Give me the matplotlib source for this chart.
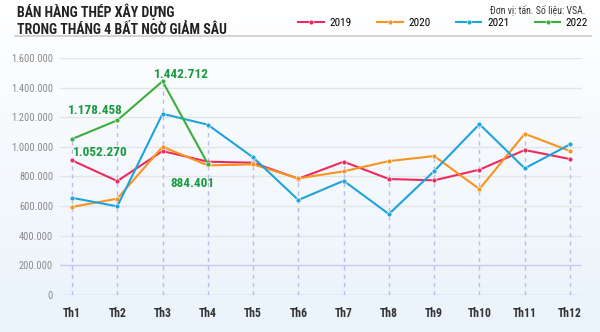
import numpy as np
import matplotlib.pyplot as plt
from matplotlib import font_manager
from matplotlib.colors import LinearSegmentedColormap
from matplotlib.lines import Line2D

# Sản lượng bán hàng thép xây dựng theo tháng (tấn)
thang = ['Th1', 'Th2', 'Th3', 'Th4', 'Th5', 'Th6', 'Th7', 'Th8', 'Th9', 'Th10', 'Th11', 'Th12']
nam_2019 = [908000, 768000, 971000, 899000, 892000, 784000, 899000, 782000, 773000, 845000, 978000, 917000]
nam_2020 = [593000, 649000, 1000000, 874000, 881000, 786000, 834000, 903000, 937000, 714000, 1088000, 971000]
nam_2021 = [655000, 597000, 1223000, 1149000, 928000, 640000, 770000, 545000, 836000, 1153000, 854000, 1016000]
nam_2022 = [1052270, 1178458, 1442712, 884401]

yticks = [0, 200000, 400000, 600000, 800000, 1000000, 1200000, 1400000, 1600000]

colors = {'2019': '#ec2a5f', '2020': '#f7931e', '2021': '#1ea3dc', '2022': '#3bae3b'}
label_green = '#1a9a3e'

# chọn font hẹp nếu có
font = 'DejaVu Sans'
for cand in ['Liberation Sans Narrow', 'Roboto Condensed', 'Roboto']:
    try:
        font_manager.findfont(cand, fallback_to_default=False)
        font = cand
        break
    except ValueError:
        pass
plt.rcParams['font.family'] = [font, 'DejaVu Sans']


def fmt(v):
    return f'{v:,}'.replace(',', '.')


fig = plt.figure(figsize=(6, 3.32), dpi=100)

# nền chuyển màu nhạt từ trắng xuống xanh
bg = fig.add_axes([0, 0, 1, 1], zorder=-10)
grad = np.linspace(1, 0, 256).reshape(-1, 1)
bg.imshow(grad, aspect='auto', cmap=LinearSegmentedColormap.from_list('bg', ['#ffffff', '#eaf3fb']),
          extent=[0, 1, 0, 1], origin='lower')
bg.set_axis_off()

ax = fig.add_axes([0.1, 0.1124, 0.87, 0.7129])
ax.patch.set_alpha(0)
x = np.arange(len(thang))

ax.set_xlim(-0.265, 11.265)
ax.set_ylim(0, 1600000)

# lưới ngang
for v in yticks:
    c = '#c9c9f0' if v <= 200000 else '#e4e4e4'
    ax.axhline(v, color=c, lw=1, zorder=0)

# đường gióng dọc tới điểm cao nhất mỗi tháng
all_vals = [nam_2019, nam_2020, nam_2021, nam_2022 + [0] * 8]
max_vals = np.max(np.array(all_vals), axis=0)
for i, m in enumerate(max_vals):
    ax.vlines(i, 0, m, colors='#b9b9ec', lw=1, linestyles=(0, (3, 3)), zorder=1)

series = [('2019', nam_2019), ('2020', nam_2020), ('2021', nam_2021), ('2022', nam_2022)]
for name, vals in series:
    ax.plot(x[:len(vals)], vals, color=colors[name], lw=1.5, marker='o', ms=3.5,
            mec='white', mew=0.4, zorder=3)

# nhãn giá trị năm 2022
lbl = dict(color=label_green, fontsize=9.5, fontweight='bold', ha='center', va='center')
ax.text(0.51, 1248000, fmt(nam_2022[1]), **lbl)
ax.text(0.62, 964000, fmt(nam_2022[0]), **lbl)
ax.text(2.42, 1491000, fmt(nam_2022[2]), **lbl)
ax.text(2.65, 754000, fmt(nam_2022[3]), **lbl)

ax.set_yticks(yticks)
ax.set_yticklabels([fmt(v) for v in yticks], color='#8a8a8a', fontsize=7.5)
ax.set_xticks(x)
ax.set_xticklabels(thang, fontsize=8.5, fontweight='bold', color='#333333')
ax.tick_params(length=0)
ax.tick_params(axis='y', pad=5)
ax.tick_params(axis='x', pad=9)
for s in ax.spines.values():
    s.set_visible(False)

# tiêu đề và chú thích
fig.text(0.028, 0.99, 'BÁN HÀNG THÉP XÂY DỰNG\nTRONG THÁNG 4 BẤT NGỜ GIẢM SÂU',
         fontsize=10, fontweight='bold', color='#222222', ha='left', va='top',
         linespacing=1.3)
fig.text(0.975, 0.968, 'Đơn vị: tấn. Số liệu: VSA.', fontsize=7, color='#333333',
         ha='right', va='center')
fig.add_artist(Line2D([0.025, 0.985], [0.893, 0.893], color='#cccccc', lw=1.2))

handles = [Line2D([], [], color=colors[n], lw=1.5, marker='o', ms=3.5, mec='white', mew=0.4)
           for n, _ in series]
fig.legend(handles, [n for n, _ in series], loc='center left', bbox_to_anchor=(0.497, 0.932),
           ncol=4, frameon=False, fontsize=8, numpoints=1, handlelength=2.3,
           columnspacing=2.3, handletextpad=0.5, borderpad=0, borderaxespad=0)

fig.savefig('out.png', dpi=100)
